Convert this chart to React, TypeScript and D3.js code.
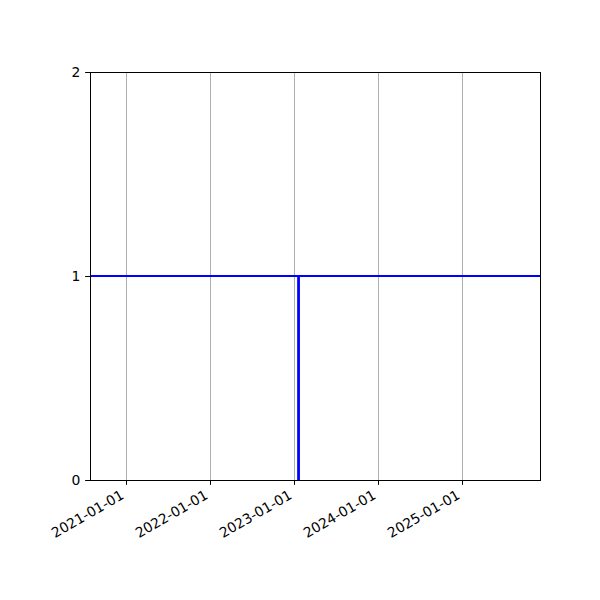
import React, { useEffect } from 'react';
import * as d3 from 'd3';

// step series: value 1 everywhere except a short drop to 0 in January 2023
const stepDates = ['2020-07-29', '2023-01-20', '2023-01-23', '2025-12-06'];
const stepValues = [1, 0, 1, 1];

const xTickDates = ['2021-01-01', '2022-01-01', '2023-01-01', '2024-01-01', '2025-01-01'];
const yTicks = [0, 1, 2];

const parse = d3.utcParse('%Y-%m-%d');

// snap a 1px line to the pixel grid, like matplotlib does
const snap = (v: number) => Math.round(v) + 0.5;

export default function App() {
  useEffect(() => {
    document.body.style.margin = '0';
  }, []);

  const width = 600;
  const height = 600;
  const left = 90;
  const right = 540;
  const top = 72;
  const bottom = 480;

  const x = d3.scaleUtc()
    .domain([parse(stepDates[0])!, parse(stepDates[stepDates.length - 1])!])
    .range([left, right]);
  const y = d3.scaleLinear().domain([0, 2]).range([bottom, top]);

  const points = stepDates.map((d, i) => ({ date: parse(d)!, value: stepValues[i] }));
  const line = d3.line<{ date: Date; value: number }>()
    .x(d => x(d.date))
    .y(d => y(d.value))
    .curve(d3.curveStepAfter);

  const tickLen = 4.86;
  const pad = 4.86;
  const fontSize = 13.9;

  return (
    <svg width={width} height={height} style={{ display: 'block', fontFamily: 'DejaVu Sans' }}>
      <rect width={width} height={height} fill="#fff" />
      <defs>
        <clipPath id="plot">
          <rect x={left} y={top} width={right - left} height={bottom - top} />
        </clipPath>
      </defs>

      {/* vertical grid */}
      {xTickDates.map(d => (
        <line key={'g' + d} x1={snap(x(parse(d)!))} x2={snap(x(parse(d)!))} y1={top} y2={bottom}
          stroke="#b0b0b0" strokeWidth={1} />
      ))}

      <path d={line(points) ?? ''} fill="none" stroke="#0000ff" strokeWidth={2.08}
        clipPath="url(#plot)" />

      {/* spines */}
      <rect x={snap(left)} y={snap(top)} width={right - left} height={bottom - top}
        fill="none" stroke="#000" strokeWidth={1} />

      {/* x axis */}
      {xTickDates.map(d => {
        const tx = x(parse(d)!);
        return (
          <g key={'x' + d}>
            <line x1={snap(tx)} x2={snap(tx)} y1={bottom} y2={bottom + tickLen} stroke="#000" strokeWidth={1} />
            <text transform={`translate(${tx - 1},${bottom + tickLen + pad + 8.2}) rotate(-30)`}
              textAnchor="end" fontSize={fontSize} fill="#000">{d}</text>
          </g>
        );
      })}

      {/* y axis */}
      {yTicks.map(t => (
        <g key={'y' + t}>
          <line x1={left - tickLen} x2={left} y1={snap(y(t))} y2={snap(y(t))} stroke="#000" strokeWidth={1} />
          <text x={left - tickLen - pad} y={y(t)} dy="0.35em" textAnchor="end"
            fontSize={fontSize} fill="#000">{t}</text>
        </g>
      ))}
    </svg>
  );
}
